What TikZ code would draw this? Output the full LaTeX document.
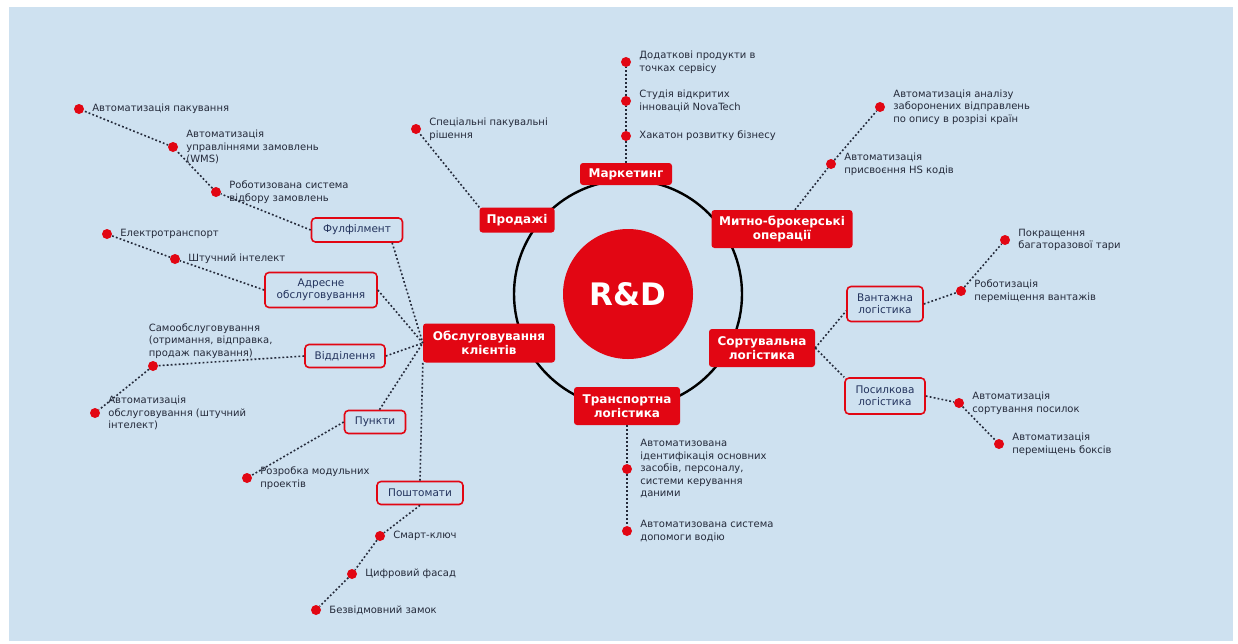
\documentclass[tikz,border=0pt]{standalone}
\usepackage{fontspec}
\setmainfont{DejaVu Sans}
\usepackage{tikz}
\usetikzlibrary{positioning}
\usetikzlibrary{shapes.geometric}

\definecolor{ndred}{RGB}{226,6,19}
\definecolor{skyback}{RGB}{206,225,240}
\definecolor{inktext}{RGB}{36,42,58}
\definecolor{boxtext}{RGB}{34,50,92}

\tikzstyle{hub} = [circle, fill=ndred, minimum size=130pt, inner sep=0pt, 
text=white, 
font=\bfseries\fontsize{31}{31}\selectfont]
\tikzstyle{catbox} = [rectangle, rounded corners=3pt, 
fill=ndred, 
text=white, 
align=center, 
inner sep=2pt, 
font=\bfseries\fontsize{12}{13.5}\selectfont]
\tikzstyle{subbox} = [rectangle, rounded corners=4pt, 
draw=ndred, line width=1.6pt, 
fill=skyback, 
text=boxtext, 
align=center, 
inner sep=2pt, 
font=\fontsize{10.5}{12}\selectfont]
\tikzstyle{leaf} = [circle, fill=ndred, minimum size=10pt, inner sep=0pt]
\tikzstyle{leaftext} = [inner sep=1pt, align=left, text=inktext, 
font=\fontsize{10}{12.5}\selectfont]
\tikzstyle{dotline} = [inktext, line width=1.6pt, dash pattern=on 1.8pt off 2.2pt]
\tikzstyle{ringline} = [black, line width=2.4pt]

\begin{document}
\begin{tikzpicture} [x=1pt, y=-1pt, node distance=7pt]
    \useasboundingbox (0,0) rectangle (1238,643);
    \fill [white] (0,0) rectangle (1238,643);
    \fill [skyback] (9,7) rectangle (1233,641);

    \coordinate (ctr) at (628,294);
    \draw [ringline] (ctr) circle (114pt);
    \node (rd) [hub] at (ctr) {R\&D};

    % main directions
    \node (mkt) [catbox, minimum width=92pt, minimum height=22pt] at (626,174) {Маркетинг};
    \node (sales) [catbox, minimum width=75pt, minimum height=25pt] at (517,220) {Продажі};
    \node (customs) [catbox, minimum width=141pt, minimum height=38pt] at (782,229) {Митно-брокерські\\операції};
    \node (sort) [catbox, minimum width=106pt, minimum height=38pt] at (762,348) {Сортувальна\\логістика};
    \node (transp) [catbox, minimum width=106pt, minimum height=38pt] at (627,406) {Транспортна\\логістика};
    \node (care) [catbox, minimum width=132pt, minimum height=39pt] at (489,343) {Обслуговування\\клієнтів};

    \node (fulf) [subbox, minimum width=91pt, minimum height=24pt] at (357,230) {Фулфілмент};
    \node (addr) [subbox, minimum width=112pt, minimum height=35pt] at (321,290) {Адресне\\обслуговування};
    \node (branch) [subbox, minimum width=80pt, minimum height=23pt] at (345,356) {Відділення};
    \node (points) [subbox, minimum width=61pt, minimum height=23pt] at (375,422) {Пункти};
    \node (lockers) [subbox, minimum width=86pt, minimum height=23pt] at (420,493) {Поштомати};
    \node (cargo) [subbox, minimum width=76pt, minimum height=35pt] at (885,304) {Вантажна\\логістика};
    \node (parcel) [subbox, minimum width=80pt, minimum height=36pt] at (885,396) {Посилкова\\логістика};

    % leaves
    \node (dot_pack) [leaf] at (79,109) {};
    \node (txt_pack) [leaftext, right=of dot_pack] {Автоматизація пакування};
    \node (dot_wms) [leaf] at (173,147) {};
    \node (txt_wms) [leaftext, right=of dot_wms] {Автоматизація\\управліннями замовлень\\(WMS)};
    \node (dot_robot) [leaf] at (216,192) {};
    \node (txt_robot) [leaftext, right=of dot_robot] {Роботизована система\\відбору замовлень};
    \node (dot_etrans) [leaf] at (107,234) {};
    \node (txt_etrans) [leaftext, right=of dot_etrans] {Електротранспорт};
    \node (dot_ai) [leaf] at (175,259) {};
    \node (txt_ai) [leaftext, right=of dot_ai] {Штучний інтелект};
    \node (dot_self) [leaf] at (153,366) {};
    \node (txt_self) [leaftext, above right=3pt and -9pt of dot_self] {Самообслуговування\\(отримання, відправка,\\продаж пакування)};
    \node (dot_aiserv) [leaf] at (95,413) {};
    \node (txt_aiserv) [leaftext, right=of dot_aiserv] {Автоматизація\\обслуговування (штучний\\інтелект)};
    \node (dot_modul) [leaf] at (247,478) {};
    \node (txt_modul) [leaftext, right=of dot_modul] {Розробка модульних\\проектів};
    \node (dot_key) [leaf] at (380,536) {};
    \node (txt_key) [leaftext, right=of dot_key] {Смарт-ключ};
    \node (dot_facade) [leaf] at (352,574) {};
    \node (txt_facade) [leaftext, right=of dot_facade] {Цифровий фасад};
    \node (dot_lock) [leaf] at (316,610) {};
    \node (txt_lock) [leaftext, right=of dot_lock] {Безвідмовний замок};

    \node (dot_spec) [leaf] at (416,129) {};
    \node (txt_spec) [leaftext, right=of dot_spec] {Спеціальні пакувальні\\рішення};
    \node (dot_extra) [leaf] at (626,62) {};
    \node (txt_extra) [leaftext, right=of dot_extra] {Додаткові продукти в\\точках сервісу};
    \node (dot_studio) [leaf] at (626,101) {};
    \node (txt_studio) [leaftext, right=of dot_studio] {Студія відкритих\\інновацій NovaTech};
    \node (dot_hack) [leaf] at (626,136) {};
    \node (txt_hack) [leaftext, right=of dot_hack] {Хакатон розвитку бізнесу};
    \node (dot_ban) [leaf] at (880,107) {};
    \node (txt_ban) [leaftext, right=of dot_ban] {Автоматизація аналізу\\заборонених відправлень\\по опису в розрізі країн};
    \node (dot_hs) [leaf] at (831,164) {};
    \node (txt_hs) [leaftext, right=of dot_hs] {Автоматизація\\присвоєння HS кодів};

    \node (dot_tare) [leaf] at (1005,240) {};
    \node (txt_tare) [leaftext, right=of dot_tare] {Покращення\\багаторазової тари};
    \node (dot_move) [leaf] at (961,291) {};
    \node (txt_move) [leaftext, right=of dot_move] {Роботизація\\переміщення вантажів};
    \node (dot_psort) [leaf] at (959,403) {};
    \node (txt_psort) [leaftext, right=of dot_psort] {Автоматизація\\сортування посилок};
    \node (dot_pbox) [leaf] at (999,444) {};
    \node (txt_pbox) [leaftext, right=of dot_pbox] {Автоматизація\\переміщень боксів};

    \node (dot_ident) [leaf] at (627,469) {};
    \node (txt_ident) [leaftext, right=of dot_ident] {Автоматизована\\ідентифікація основних\\засобів, персоналу,\\системи керування\\даними};
    \node (dot_driver) [leaf] at (627,531) {};
    \node (txt_driver) [leaftext, right=of dot_driver] {Автоматизована система\\допомоги водію};

    \draw [dotline] (fulf.west) -- (dot_robot) -- (dot_wms) -- (dot_pack);
    \draw [dotline] (fulf.340) -- (care.west);
    \draw [dotline] (addr.west) -- (dot_ai) -- (dot_etrans);
    \draw [dotline] (addr.east) -- (care.west);
    \draw [dotline] (branch.west) -- (dot_self) -- (dot_aiserv);
    \draw [dotline] (branch.east) -- (care.west);
    \draw [dotline] (points.west) -- (dot_modul);
    \draw [dotline] (points.70) -- (care.west);
    \draw [dotline] (lockers.north) -- (care.south west);
    \draw [dotline] (lockers.south) -- (dot_key) -- (dot_facade) -- (dot_lock);
    \draw [dotline] (sales.north west) -- (dot_spec);
    \draw [dotline] (mkt.north) -- (dot_hack) -- (dot_studio) -- (dot_extra);
    \draw [dotline] (customs.56) -- (dot_hs) -- (dot_ban);
    \draw [dotline] (sort.east) -- (cargo.190);
    \draw [dotline] (sort.east) -- (parcel.north west);
    \draw [dotline] (cargo.east) -- (dot_move) -- (dot_tare);
    \draw [dotline] (parcel.east) -- (dot_psort) -- (dot_pbox);
    \draw [dotline] (transp.south) -- (dot_ident) -- (dot_driver);

\end{tikzpicture}
\end{document}
